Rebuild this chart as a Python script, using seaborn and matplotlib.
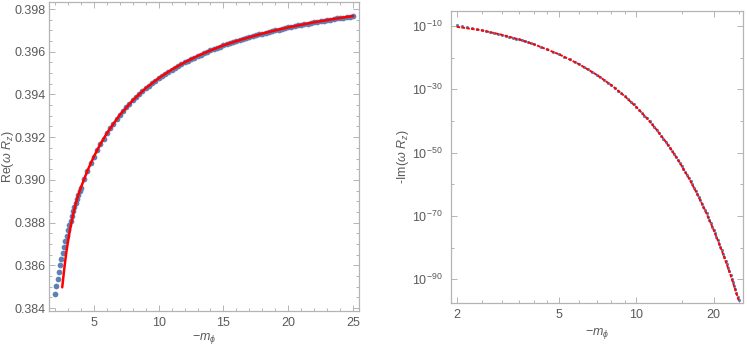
import seaborn as sns
import matplotlib.pyplot as plt
from matplotlib.ticker import MultipleLocator, FixedLocator, NullFormatter, FormatStrFormatter

# -m_phi sample points (dense near the start)
m_dots = [2.0, 2.1, 2.2, 2.3, 2.4, 2.5, 2.6, 2.7, 2.8, 2.9, 3.0, 3.1, 3.2, 3.3, 3.4, 3.5,
          3.6, 3.7, 3.8, 3.9, 4.0,
          4.25, 4.5, 4.75, 5.0, 5.25, 5.5, 5.75, 6.0, 6.25, 6.5, 6.75, 7.0, 7.25, 7.5, 7.75,
          8.0, 8.25, 8.5, 8.75, 9.0, 9.25, 9.5, 9.75, 10.0, 10.25, 10.5, 10.75, 11.0, 11.25,
          11.5, 11.75, 12.0, 12.25, 12.5, 12.75, 13.0, 13.25, 13.5, 13.75, 14.0, 14.25, 14.5,
          14.75, 15.0, 15.25, 15.5, 15.75, 16.0, 16.25, 16.5, 16.75, 17.0, 17.25, 17.5, 17.75,
          18.0, 18.25, 18.5, 18.75, 19.0, 19.25, 19.5, 19.75, 20.0, 20.25, 20.5, 20.75, 21.0,
          21.25, 21.5, 21.75, 22.0, 22.25, 22.5, 22.75, 23.0, 23.25, 23.5, 23.75, 24.0, 24.25,
          24.5, 24.75, 25.0]

# Re(omega R_z), numerical points
re_dots = [0.38466, 0.38502, 0.38536, 0.38569, 0.38601, 0.38631, 0.38659, 0.38687, 0.38713,
           0.38739, 0.38763, 0.38787, 0.38809, 0.38831, 0.38852, 0.38872, 0.38892, 0.38911,
           0.38929, 0.38947, 0.38964,
           0.39004, 0.39042, 0.39077, 0.39109, 0.39139, 0.39167, 0.39193, 0.39218, 0.39242,
           0.39263, 0.39284, 0.39304, 0.39322, 0.39340, 0.39357, 0.39372, 0.39388, 0.39402,
           0.39416, 0.39429, 0.39441, 0.39453, 0.39465, 0.39476,
           0.39487, 0.39497, 0.39507, 0.39516, 0.39525, 0.39534, 0.39542, 0.39550, 0.39558,
           0.39566, 0.39573, 0.39580, 0.39587, 0.39594, 0.39600, 0.39606, 0.39612, 0.39618,
           0.39624, 0.39630,
           0.39635, 0.39640, 0.39645, 0.39650, 0.39655, 0.39660, 0.39664, 0.39668, 0.39673,
           0.39677, 0.39681, 0.39685, 0.39689, 0.39693, 0.39696, 0.39700, 0.39704, 0.39707,
           0.39710, 0.39714,
           0.39717, 0.39720, 0.39723, 0.39726, 0.39729, 0.39732, 0.39735, 0.39738, 0.39740,
           0.39743, 0.39746, 0.39748, 0.39751, 0.39753, 0.39756, 0.39758, 0.39760, 0.39763,
           0.39765, 0.39767]

# -Im(omega R_z), numerical points
im_dots = [1.6e-10, 8.0e-11, 4.1e-11, 2.1e-11, 1.0e-11, 5.3e-12, 2.6e-12, 1.3e-12, 6.7e-13,
           3.3e-13, 1.7e-13, 8.4e-14, 4.2e-14, 2.1e-14, 1.0e-14, 5.1e-15, 2.5e-15, 1.3e-15,
           6.2e-16, 3.0e-16, 1.5e-16,
           2.5e-17, 4.2e-18, 6.9e-19, 1.1e-19, 1.8e-20, 2.9e-21, 4.6e-22, 7.2e-23, 1.1e-23,
           1.7e-24, 2.6e-25, 3.9e-26, 5.8e-27, 8.5e-28, 1.2e-28, 1.8e-29, 2.5e-30, 3.6e-31,
           5.0e-32, 6.9e-33, 9.4e-34, 1.3e-34, 1.7e-35, 2.3e-36,
           3.0e-37, 3.8e-38, 4.9e-39, 6.3e-40, 7.9e-41, 9.8e-42, 1.2e-42, 1.5e-43, 1.8e-44,
           2.1e-45, 2.5e-46, 2.9e-47, 3.4e-48, 3.9e-49, 4.4e-50, 4.9e-51, 5.4e-52, 6.0e-53,
           6.5e-54, 7.0e-55,
           7.4e-56, 7.8e-57, 8.1e-58, 8.4e-59, 8.5e-60, 8.6e-61, 8.6e-62, 8.5e-63, 8.3e-64,
           8.1e-65, 7.7e-66, 7.3e-67, 6.9e-68, 6.4e-69, 5.8e-70, 5.3e-71, 4.8e-72, 4.3e-73,
           3.8e-74, 3.3e-75,
           2.8e-76, 2.4e-77, 2.0e-78, 1.7e-79, 1.4e-80, 1.2e-81, 9.4e-83, 7.5e-84, 6.0e-85,
           4.7e-86, 3.6e-87, 2.8e-88, 2.1e-89, 1.6e-90, 1.2e-91, 8.8e-93, 6.4e-94, 4.7e-95,
           3.3e-96, 2.4e-97]

# analytic approximation (red curves)
m_fit_re = [2.56, 2.64, 2.74, 2.87, 3.03, 3.2, 3.4, 3.6, 3.8, 4.0, 4.5, 5.0, 5.5, 6.0, 7.0,
            8.0, 9.0, 10.0, 11.0, 12.0, 13.0, 14.0, 15.0, 16.0, 17.0, 18.0, 19.0, 20.0, 21.0,
            22.0, 23.0, 24.0, 25.0]
re_fit = [0.38497, 0.38541, 0.38595, 0.38658, 0.38721, 0.38779, 0.38838, 0.38888, 0.38929,
          0.38964, 0.39042, 0.39109, 0.39167, 0.39218, 0.39304, 0.39372, 0.39429, 0.39476,
          0.39516, 0.39550, 0.39580, 0.39606, 0.39630, 0.39650, 0.39668, 0.39685, 0.39700,
          0.39714, 0.39726, 0.39738, 0.39748, 0.39758, 0.39767]

m_fit_im = [2.0, 2.5, 3.0, 3.5, 4.0, 5.0, 6.0, 7.0, 8.0, 9.0, 10.0, 11.0, 12.0, 13.0, 14.0,
            15.0, 16.0, 17.0, 18.0, 19.0, 20.0, 21.0, 22.0, 23.0, 24.0, 25.0]
im_fit = [5.0e-11, 4.0e-12, 1.5e-13, 5.1e-15, 1.5e-16, 1.1e-19, 7.2e-23, 3.9e-26, 1.8e-29,
          6.9e-33, 2.3e-36, 6.3e-40, 1.5e-43, 2.9e-47, 4.9e-51, 7.0e-55, 8.4e-59, 8.5e-63,
          7.3e-67, 5.3e-71, 3.3e-75, 1.7e-79, 7.5e-84, 2.8e-88, 8.8e-93, 2.4e-97]

im_ticks = [1e-10, 1e-30, 1e-50, 1e-70, 1e-90]
im_ticklabels = [r'$10^{-10}$', r'$10^{-30}$', r'$10^{-50}$', r'$10^{-70}$', r'$10^{-90}$']

sns.set_style('ticks')
plt.rcParams['font.family'] = ['Liberation Sans', 'DejaVu Sans']
plt.rcParams['mathtext.fontset'] = 'custom'
plt.rcParams['mathtext.rm'] = 'Liberation Sans'
plt.rcParams['mathtext.it'] = 'Liberation Sans:italic'
plt.rcParams['mathtext.bf'] = 'Liberation Sans:bold'

blue = '#5e81b5'
frame_col = '#b4b4b4'
text_col = '#5a5a5a'
fs = 9

fig = plt.figure(figsize=(7.47, 3.45), dpi=100)
ax1 = fig.add_axes([49 / 747, 34 / 345, 310 / 747, 309 / 345])
ax2 = fig.add_axes([451 / 747, 41.7 / 345, 292 / 747, 292.3 / 345])

# left panel: real part
sns.scatterplot(x=m_dots, y=re_dots, ax=ax1, color=blue, s=17, linewidth=0, zorder=2)
sns.lineplot(x=m_fit_re, y=re_fit, ax=ax1, color='red', lw=1.8, zorder=3)
ax1.set_xlim(1.54, 25.46)
ax1.set_ylim(0.38386, 0.39833)
ax1.xaxis.set_major_locator(MultipleLocator(5))
ax1.xaxis.set_minor_locator(MultipleLocator(1))
ax1.yaxis.set_major_locator(MultipleLocator(0.002))
ax1.yaxis.set_minor_locator(MultipleLocator(0.0005))
ax1.yaxis.set_major_formatter(FormatStrFormatter('%.3f'))
ax1.set_ylabel(r'Re$(\omega\ R_z)$', color=text_col, fontsize=fs)
ax1.yaxis.set_label_coords(-0.105, 0.5)
ax1.set_xlabel(r'$-m_\phi$', color=text_col, fontsize=fs, labelpad=2)

# right panel: imaginary part, log-log
ax2.set_xscale('log')
ax2.set_yscale('log')
sns.scatterplot(x=m_dots, y=im_dots, ax=ax2, color=blue, s=5, linewidth=0, zorder=2)
sns.lineplot(x=m_fit_im, y=im_fit, ax=ax2, color='red', lw=1.4, zorder=3,
             dashes=False)
ax2.lines[-1].set_dashes((1.8, 0.7))
ax2.set_xlim(1.90, 26.0)
ax2.set_ylim(10 ** -97.6, 10 ** -5.3)
ax2.xaxis.set_major_locator(FixedLocator([2, 5, 10, 20]))
ax2.xaxis.set_minor_locator(FixedLocator([2.5, 3, 3.5, 4, 4.5, 6, 7, 8, 9, 15, 25]))
ax2.xaxis.set_minor_formatter(NullFormatter())
ax2.set_xticklabels(['2', '5', '10', '20'])
ax2.yaxis.set_major_locator(FixedLocator(im_ticks))
ax2.yaxis.set_minor_locator(FixedLocator([1e-20, 1e-40, 1e-60, 1e-80]))
ax2.yaxis.set_minor_formatter(NullFormatter())
ax2.set_yticklabels(im_ticklabels)
ax2.set_ylabel(r'-Im$(\omega\ R_z)$', color=text_col, fontsize=fs, labelpad=1)
ax2.set_xlabel(r'$-m_\phi$', color=text_col, fontsize=fs, labelpad=4)

for ax in (ax1, ax2):
    for sp in ax.spines.values():
        sp.set_color(frame_col)
        sp.set_linewidth(0.9)
    ax.tick_params(which='both', direction='in', top=True, right=True,
                   color=frame_col, labelcolor=text_col, labelsize=fs, width=0.7)
    ax.tick_params(which='major', length=4)
    ax.tick_params(which='minor', length=2.2)
ax1.tick_params(axis='y', pad=2.5)
ax1.tick_params(axis='x', pad=4)
ax2.tick_params(axis='y', pad=6)
ax2.tick_params(axis='x', pad=4)

fig.savefig('out.png', dpi=100)
